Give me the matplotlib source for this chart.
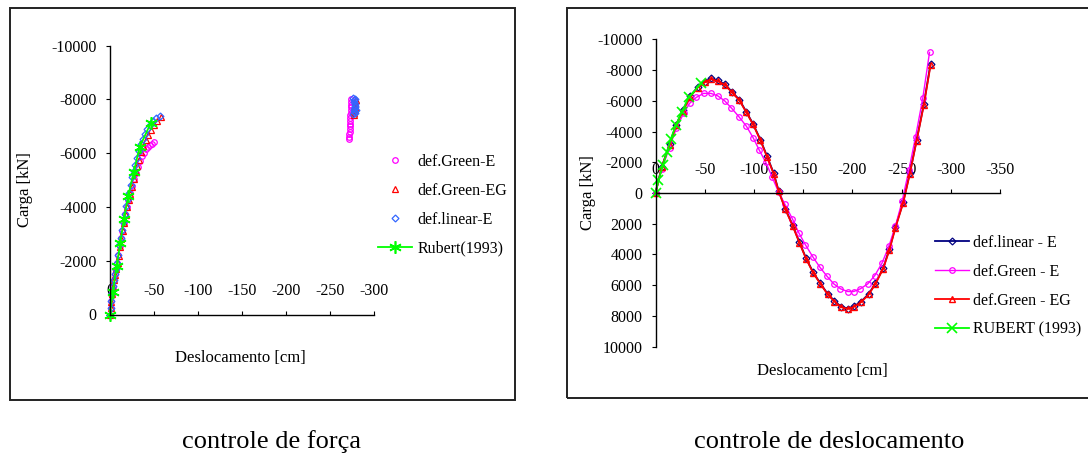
import matplotlib
matplotlib.use("Agg")
import matplotlib.pyplot as plt
from matplotlib.patches import Rectangle

plt.rcParams['font.family'] = ['Liberation Serif', 'DejaVu Serif']
plt.rcParams['axes.unicode_minus'] = False

# ---- controle de força (load control), markers only ----
grE_l_x = [0, -0.6, -1.3, -2.2, -3.2, -4.3, -5.4, -6.6, -7.9, -9.3,
           -10.8, -12.3, -13.9, -15.5, -17.2, -19.0, -20.9, -22.9, -25.0, -27.1,
           -29.2, -31.5, -34.0, -36.4, -38.8, -41.2, -43.4, -45.6, -48.0, -50.2,
           -271.2, -271.3, -271.5, -272.3, -272.4, -272.5, -272.6, -272.6, -272.7, -272.8,
           -273.8, -273.9, -274.0, -274.0, -274.1, -274.2]
grE_l_y = [0, -240, -490, -780, -1040, -1290, -1500, -1700, -1930, -2220,
           -2560, -2830, -3120, -3420, -3720, -4000, -4250, -4500, -4780, -5020,
           -5250, -5480, -5700, -5880, -6020, -6140, -6230, -6300, -6350, -6400,
           -6520, -6610, -6700, -6800, -6900, -7000, -7100, -7200, -7300, -7400,
           -7500, -7600, -7700, -7800, -7900, -8000]

grEG_l_x = [0, -0.8, -1.6, -2.6, -3.7, -4.8, -6.0, -7.3, -8.6, -10.0,
            -11.5, -13.0, -14.6, -16.2, -17.9, -19.6, -21.4, -23.2, -25.1, -27.0,
            -29.0, -31.1, -33.3, -35.6, -38.0, -40.6, -43.4, -46.5, -50.0, -53.6,
            -57.6, -277.0, -277.3, -277.6, -277.9, -278.2, -278.5, -278.8, -279.1]
grEG_l_y = [0, -230, -480, -770, -1020, -1270, -1480, -1690, -1900, -2180,
            -2520, -2800, -3100, -3400, -3700, -3990, -4250, -4480, -4750, -5040,
            -5280, -5520, -5760, -6030, -6270, -6480, -6680, -6870, -7030, -7180,
            -7340, -7420, -7480, -7560, -7640, -7720, -7800, -7880, -7960]

linE_l_x = [0, -0.6, -1.3, -2.2, -3.2, -4.3, -5.4, -6.6, -7.8, -9.2,
            -10.6, -12.1, -13.6, -15.1, -16.7, -18.3, -19.9, -21.6, -23.3, -25.1,
            -26.9, -28.8, -30.8, -32.9, -35.1, -37.4, -39.9, -42.6, -45.6, -49.0,
            -52.8, -57.0, -276.3, -276.6, -276.9, -277.2, -277.4, -277.6, -277.9, -278.1,
            -278.3, -278.5, -278.8, -279.0]
linE_l_y = [0, -250, -500, -800, -1050, -1300, -1500, -1700, -1920, -2200,
            -2580, -2850, -3150, -3450, -3750, -4050, -4300, -4530, -4800, -5100,
            -5330, -5570, -5800, -6080, -6320, -6510, -6700, -6890, -7040, -7180,
            -7300, -7380, -7460, -8050, -7560, -7980, -7650, -7900, -7740, -7830,
            -7500, -8000, -7700, -7600]

# ---- controle de deslocamento (displacement control) ----
linE_r_x = [0, -6.5, -14.3, -21.0, -27.9, -35.3, -42.7, -49.9, -56.3, -63.0,
            -70.9, -77.7, -85.1, -92.3, -99.1, -106.5, -113.3, -120.0, -125.1, -131.9,
            -139.4, -146.2, -153.0, -160.1, -167.5, -175.0, -181.8, -188.6, -195.7, -202.1,
            -208.9, -216.7, -223.5, -231.3, -237.7, -243.8, -251.7, -258.4, -265.2, -272.6,
            -279.4]
linE_r_y = [0, -1720, -3180, -4450, -5400, -6300, -6880, -7240, -7450, -7320,
            -7060, -6580, -6080, -5280, -4500, -3480, -2400, -1300, -150, 1020,
            2100, 3200, 4250, 5150, 5880, 6570, 7020, 7400, 7520, 7360,
            7060, 6560, 5870, 4880, 3640, 2200, 580, -1300, -3420, -5780,
            -8400]

grE_r_x = [0, -6.5, -14.3, -21.0, -28.5, -34.6, -41.4, -48.8, -56.3, -63.0,
           -70.2, -77.0, -84.8, -92.3, -99.1, -105.5, -112.0, -118.5, -125.0, -131.5,
           -139.0, -145.5, -152.3, -160.0, -166.9, -174.4, -181.1, -187.9, -195.3, -201.4,
           -208.2, -215.7, -222.8, -230.3, -237.0, -243.8, -250.6, -257.4, -264.2, -271.6,
           -278.4]
grE_r_y = [0, -1590, -2960, -4200, -5180, -5830, -6220, -6480, -6480, -6330,
           -6000, -5540, -4960, -4350, -3610, -2780, -2000, -1040, -65, 740,
           1670, 2580, 3370, 4170, 4820, 5430, 5910, 6230, 6410, 6410,
           6230, 5910, 5370, 4540, 3480, 2150, 520, -1480, -3650, -6190,
           -9150]

grEG_r_x = [0, -6.5, -14.3, -21.0, -27.9, -35.3, -42.7, -49.9, -56.3, -63.0,
            -70.9, -77.7, -85.1, -92.3, -99.1, -106.5, -113.3, -120.0, -125.1, -131.9,
            -139.4, -146.2, -153.0, -160.1, -167.5, -175.0, -181.8, -188.6, -195.7, -202.1,
            -208.9, -216.7, -223.5, -231.3, -237.7, -243.8, -251.7, -258.4, -265.2, -272.6,
            -279.4]
grEG_r_y = [0, -1700, -3150, -4410, -5350, -6260, -6850, -7190, -7410, -7280,
            -7020, -6540, -6040, -5240, -4460, -3440, -2350, -1260, -110, 1060,
            2150, 3240, 4280, 5190, 5910, 6600, 7060, 7430, 7540, 7390,
            7100, 6600, 5910, 4930, 3690, 2260, 630, -1260, -3370, -5720,
            -8300]

# Rubert (1993) reference curve
rub_x = [0, -3.0, -7.5, -11.7, -15.7, -20.8, -27.0, -33.6, -46.5]
rub_y = [0, -820, -1790, -2660, -3540, -4420, -5300, -6220, -7130]

W, H = 1088, 454
fig = plt.figure(figsize=(W / 100, H / 100), dpi=100)

# panel frames
fig.patches.append(Rectangle((10 / W, 1 - 400 / H), 505 / W, 392 / H, transform=fig.transFigure,
                             fill=False, ec='#222222', lw=1.4))
fig.patches.append(Rectangle((567 / W, 1 - 398 / H), 530 / W, 390 / H, transform=fig.transFigure,
                             fill=False, ec='#222222', lw=1.4))

FS_TICK = 11.5
FS_LAB = 12
FS_LEG = 11.5


def style_axes(ax, xticks, yticks):
    for s in ['top', 'right']:
        ax.spines[s].set_visible(False)
    for s in ['left', 'bottom']:
        ax.spines[s].set_linewidth(1.0)
    ax.set_xticks(xticks)
    ax.set_yticks(yticks)
    ax.tick_params(axis='x', direction='in', length=3, width=0.8, pad=-14, labelsize=FS_TICK)
    ax.tick_params(axis='y', direction='out', length=3, width=0.8, pad=6.5, labelsize=FS_TICK)
    plt.setp(ax.get_xticklabels(), va='baseline')
    ax.patch.set_visible(False)


# ---------------- left: controle de força ----------------
axL = fig.add_axes([110 / W, 1 - 314.5 / H, 264 / W, 269 / H])
axL.plot(grE_l_x, grE_l_y, ls='none', marker='o', ms=4, mfc='none', mec='#FF00FF', mew=0.9,
         label='def.Green-E', clip_on=False)
axL.plot(grEG_l_x, grEG_l_y, ls='none', marker='^', ms=4, mfc='none', mec='#FF0000', mew=0.9,
         label='def.Green-EG', clip_on=False)
axL.plot(linE_l_x, linE_l_y, ls='none', marker='D', ms=3.5, mfc='none', mec='#3366FF', mew=0.9,
         label='def.linear-E', clip_on=False)
axL.plot(rub_x, rub_y, color='#00FF00', lw=1.3, marker=(6, 2, 0), ms=9, mew=1.2,
         label='Rubert(1993)', clip_on=False)
axL.set_xlim(0, -300)
axL.set_ylim(0, -10000)
style_axes(axL, [0, -50, -100, -150, -200, -250, -300], list(range(0, -10001, -2000)))
axL.set_xlabel('Deslocamento [cm]', fontsize=FS_LAB, va='center')
axL.xaxis.set_label_coords(240 / W, 1 - 358 / H, transform=fig.transFigure)
axL.set_ylabel('Carga [kN]', fontsize=FS_LAB, va='center')
axL.yaxis.set_label_coords(25 / W, 1 - 190 / H, transform=fig.transFigure)
axL.legend(loc='upper left', bbox_to_anchor=(378 / W, 1 - 154 / H), bbox_transform=fig.transFigure,
           frameon=False, fontsize=FS_LEG, borderpad=0, borderaxespad=0, handlelength=2.15,
           handletextpad=0.3, labelspacing=0.8, numpoints=1)

# ---------------- right: controle de deslocamento ----------------
axR = fig.add_axes([655.5 / W, 1 - 346.7 / H, 344.5 / W, 307.4 / H])
axR.plot(linE_r_x, linE_r_y, color='#000080', lw=1.3, marker='D', ms=3.5, mfc='none', mew=0.9,
         label='def.linear - E', clip_on=False)
axR.plot(grE_r_x, grE_r_y, color='#FF00FF', lw=1.0, marker='o', ms=4, mfc='none', mew=0.9,
         label='def.Green - E', clip_on=False)
axR.plot(grEG_r_x, grEG_r_y, color='#FF0000', lw=1.3, marker='^', ms=5, mfc='none', mew=1.0,
         label='def.Green - EG', clip_on=False)
axR.plot(rub_x, rub_y, color='#00FF00', lw=1.3, marker='x', ms=6.5, mew=1.2,
         label='RUBERT (1993)', clip_on=False)
axR.set_xlim(0, -350)
axR.set_ylim(10000, -10000)
axR.spines['bottom'].set_position(('data', 0))
style_axes(axR, [0, -50, -100, -150, -200, -250, -300, -350], list(range(-10000, 10001, 2000)))
axR.set_xlabel('Deslocamento [cm]', fontsize=FS_LAB, va='center')
axR.xaxis.set_label_coords(822 / W, 1 - 371 / H, transform=fig.transFigure)
axR.set_ylabel('Carga [kN]', fontsize=FS_LAB, va='center')
axR.yaxis.set_label_coords(588 / W, 1 - 193 / H, transform=fig.transFigure)
axR.legend(loc='upper left', bbox_to_anchor=(935 / W, 1 - 235 / H), bbox_transform=fig.transFigure,
           frameon=False, fontsize=FS_LEG, borderpad=0, borderaxespad=0, handlelength=2.1,
           handletextpad=0.25, labelspacing=0.8, numpoints=1)

# captions
fig.text(272 / W, 1 - 448 / H, 'controle de força', ha='center', va='baseline', fontsize=19)
fig.text(829 / W, 1 - 448 / H, 'controle de deslocamento', ha='center', va='baseline', fontsize=19)

fig.savefig('out.png', dpi=100)
